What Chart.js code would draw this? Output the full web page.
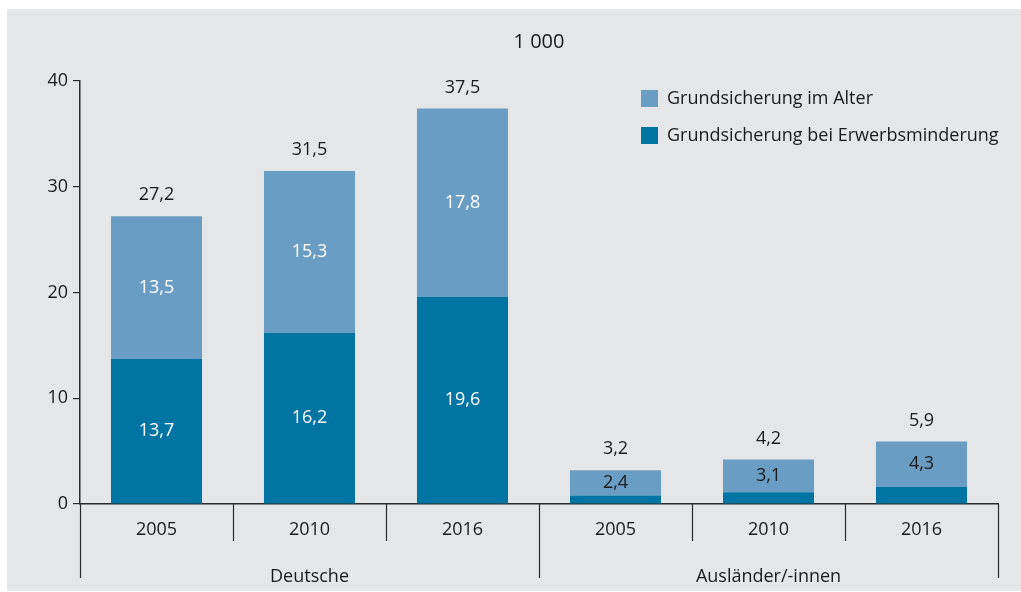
<!DOCTYPE html>
<html>
<head>
<meta charset="utf-8">
<script src="https://cdn.jsdelivr.net/npm/chart.js@4/dist/chart.umd.min.js"></script>
<style>
  html, body { margin: 0; padding: 0; background: #ffffff; }
  #wrap { position: relative; width: 1021px; height: 592px; }
</style>
</head>
<body>
<div id="wrap"><canvas id="c" width="1021" height="592"></canvas></div>
<script>
const years = ["2005", "2010", "2016", "2005", "2010", "2016"];
const groups = ["Deutsche", "Ausländer/-innen"];
const groupSizes = [3, 3];
const alterValues = [13.5, 15.3, 17.8, 2.4, 3.1, 4.3];
const erwerbValues = [13.7, 16.2, 19.6, 0.8, 1.1, 1.6];
const totals = [27.2, 31.5, 37.5, 3.2, 4.2, 5.9];
const seriesNames = ["Grundsicherung im Alter", "Grundsicherung bei Erwerbsminderung"];
const unitLabel = "1 000";
const yTicks = [0, 10, 20, 30, 40];

const FONT = "'Open Sans', 'Noto Sans', sans-serif";
const TEXT = "#1a1a1a";
const LIGHT = "#6a9dc3";
const DARK = "#0075a4";
const fmt = v => v.toFixed(1).replace('.', ',');

const bgPlugin = {
  id: 'bg',
  beforeDraw(chart) {
    const ctx = chart.ctx;
    ctx.save();
    ctx.fillStyle = '#e5e6e8';
    ctx.fillRect(7, 9, chart.width - 7, chart.height - 10);
    ctx.restore();
  }
};

const annotPlugin = {
  id: 'annot',
  afterDatasetsDraw(chart) {
    const ctx = chart.ctx;
    const x = chart.scales.x, y = chart.scales.y;
    const area = chart.chartArea;
    ctx.save();
    ctx.font = "18px " + FONT;
    ctx.textAlign = 'center';
    ctx.textBaseline = 'middle';
    // segment labels
    const metaE = chart.getDatasetMeta(0), metaA = chart.getDatasetMeta(1);
    [metaE, metaA].forEach((meta, di) => {
      const vals = chart.data.datasets[di].data;
      meta.data.forEach((bar, i) => {
        const h = Math.abs(bar.base - bar.y);
        if (h < 20) return;
        ctx.fillStyle = h > 80 ? '#ffffff' : TEXT;
        ctx.fillText(fmt(vals[i]), bar.x, (bar.y + bar.base) / 2);
      });
    });
    // totals
    ctx.fillStyle = TEXT;
    metaA.data.forEach((bar, i) => {
      ctx.fillText(fmt(totals[i]), bar.x, bar.y - 21);
    });
    // unit label
    ctx.font = "20px " + FONT;
    ctx.fillText(unitLabel, (area.left + area.right) / 2, 42);
    ctx.font = "18px " + FONT;
    // category separators
    ctx.strokeStyle = '#2a2a2a';
    ctx.lineWidth = 1.2;
    const half = (x.getPixelForValue(1) - x.getPixelForValue(0)) / 2;
    let idx = 0;
    const bounds = [0];
    groupSizes.forEach(s => { idx += s; bounds.push(idx); });
    for (let i = 0; i <= years.length; i++) {
      const px = Math.round(x.getPixelForValue(i) - half) + 0.5;
      const isGroup = bounds.includes(i);
      ctx.beginPath();
      ctx.moveTo(px, area.bottom);
      ctx.lineTo(px, area.bottom + (isGroup ? 74 : 37));
      ctx.stroke();
    }
    // group labels
    ctx.fillStyle = TEXT;
    for (let g = 0; g < groups.length; g++) {
      const l = x.getPixelForValue(bounds[g]) - half;
      const r = x.getPixelForValue(bounds[g + 1]) - half;
      ctx.fillText(groups[g], (l + r) / 2, 577);
    }
    // legend
    const order = [1, 0];
    order.forEach((di, k) => {
      const ds = chart.data.datasets[di];
      const ly = 90 + k * 37;
      ctx.fillStyle = ds.backgroundColor;
      ctx.fillRect(641, ly, 17, 17);
      ctx.fillStyle = TEXT;
      ctx.textAlign = 'left';
      ctx.fillText(ds.label, 667, ly + 9);
    });
    ctx.restore();
  }
};

new Chart(document.getElementById('c'), {
  type: 'bar',
  data: {
    labels: years,
    datasets: [
      { label: seriesNames[1], data: erwerbValues, backgroundColor: DARK, stack: 's' },
      { label: seriesNames[0], data: alterValues, backgroundColor: LIGHT, stack: 's' }
    ]
  },
  options: {
    responsive: false,
    animation: false,
    events: [],
    layout: { padding: { left: 0, right: 23, top: 81, bottom: 0 } },
    datasets: { bar: { categoryPercentage: 1, barPercentage: 0.595 } },
    plugins: { legend: { display: false }, tooltip: { enabled: false } },
    scales: {
      x: {
        stacked: true,
        grid: { display: false },
        border: { display: true, color: '#2a2a2a', width: 1.5 },
        ticks: { color: TEXT, font: { family: FONT, size: 18 }, padding: 7 },
        afterFit(s) { s.height = 88; }
      },
      y: {
        stacked: true,
        min: 0, max: 40,
        afterBuildTicks(s) { s.ticks = yTicks.map(v => ({ value: v })); },
        grid: { drawOnChartArea: false, drawTicks: true, tickLength: 7, color: '#2a2a2a', lineWidth: 1.2 },
        border: { display: true, color: '#2a2a2a', width: 1.5 },
        ticks: { color: TEXT, font: { family: FONT, size: 18 }, padding: 5 },
        afterFit(s) { s.width = 80; }
      }
    }
  },
  plugins: [bgPlugin, annotPlugin]
});
</script>
</body>
</html>
